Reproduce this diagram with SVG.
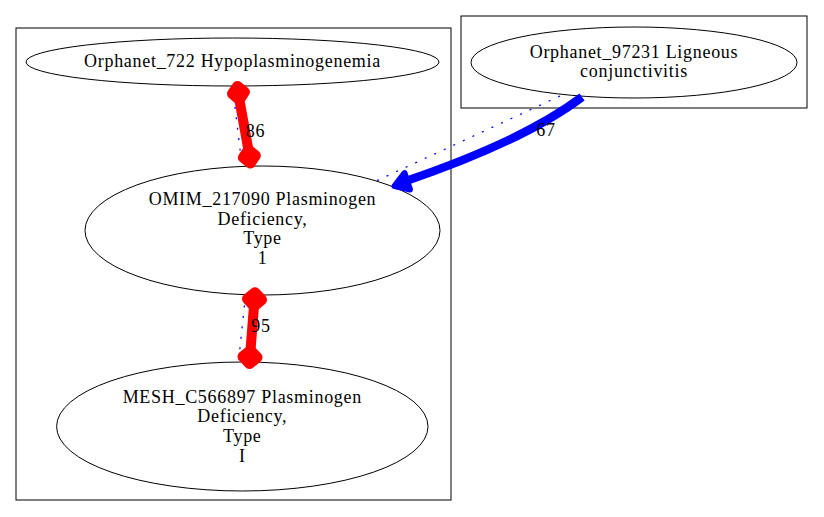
<svg xmlns="http://www.w3.org/2000/svg" width="824" height="517" viewBox="0 0 824 517">
<style>
.cl{fill:none;stroke:#000;stroke-width:1}
.nd{fill:#fff;stroke:#000;stroke-width:1}
text{font-family:"Liberation Serif","Times New Roman",serif;font-size:18px;letter-spacing:0.7px;fill:#000;text-anchor:middle}
.dot{fill:none;stroke:#0000ff;stroke-width:1.3;stroke-dasharray:2,8.5}
.red{fill:none;stroke:#ff0000;stroke-width:10}
.redh{fill:#ff0000;stroke:#ff0000;stroke-width:11;stroke-linejoin:round}
.blue{fill:none;stroke:#0000ff;stroke-width:8.5}
.blueh{fill:#0000ff;stroke:#0000ff;stroke-width:6;stroke-linejoin:round}
</style>
<rect width="824" height="517" fill="#fff"/>
<g id="clusters">
<rect class="cl" x="16" y="28" width="435" height="472"/>
<rect class="cl" x="461" y="16" width="346" height="92"/>
</g>
<g id="node-orphanet722">
<ellipse class="nd" cx="232.5" cy="62" rx="206.5" ry="24"/>
<text x="232.5" y="67">Orphanet_722 Hypoplasminogenemia</text>
</g>
<g id="node-orphanet97231">
<ellipse class="nd" cx="634" cy="62.5" rx="163" ry="35.5"/>
<text x="634" y="57.5">Orphanet_97231 Ligneous</text>
<text x="634" y="76.5">conjunctivitis</text>
</g>
<g id="node-omim217090">
<ellipse class="nd" cx="262.5" cy="230.5" rx="177.5" ry="64.5"/>
<text x="262.5" y="205">OMIM_217090 Plasminogen</text>
<text x="262.5" y="224.7">Deficiency,</text>
<text x="262.5" y="244.4">Type</text>
<text x="262.5" y="264.1">1</text>
</g>
<g id="node-meshC566897">
<ellipse class="nd" cx="242.3" cy="426.5" rx="185.7" ry="64.5"/>
<text x="242.3" y="402.7">MESH_C566897 Plasminogen</text>
<text x="242.3" y="422.4">Deficiency,</text>
<text x="242.3" y="442.1">Type</text>
<text x="242.3" y="461.8">I</text>
</g>
<g id="connectors">
<line class="dot" x1="232.5" y1="86" x2="242" y2="166"/>
<path class="red" d="M239.6,100.8 L248.2,148.7"/>
<polygon class="redh" points="237.5,86.5 232.5,93.8 239.4,99.5 244.3,92"/>
<polygon class="redh" points="250.3,163 255.3,155.5 248.4,150 243.5,157.5"/>
<text x="255.5" y="137">86</text>

<line class="dot" x1="245.5" y1="295" x2="238.5" y2="362"/>
<path class="red" d="M253.9,307.3 L250.6,349"/>
<polygon class="redh" points="255,292.8 261.5,299.8 254,306 247.5,298.8"/>
<polygon class="redh" points="249.5,363.5 257,357.5 250.5,350.5 243,356.5"/>
<text x="261" y="331.5">95</text>

<line class="dot" x1="560" y1="96" x2="374" y2="182"/>
<path class="blue" d="M582,97 C545,125 485,154 406,181"/>
<polygon class="blueh" points="394.5,186 410,189.5 404.5,173"/>
<text x="546" y="136">67</text>
</g>
</svg>
